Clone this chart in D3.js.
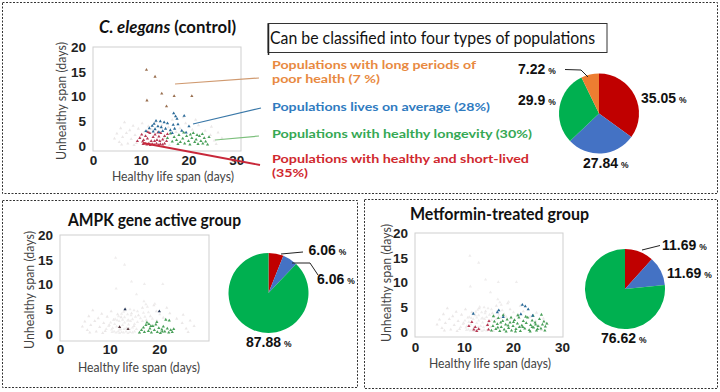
<!DOCTYPE html>
<html>
<head>
<meta charset="utf-8">
<script src="https://cdn.jsdelivr.net/npm/d3@7"></script>
<style>
  body { margin: 0; background: #fff; }
  svg { display: block; }
</style>
</head>
<body>
<svg id="fig" width="720" height="392"></svg>
<script>
// ---- data ----
// [healthy life span, unhealthy span] in days

// C. elegans control, by population type
const controlPoor = [[11.2,15.4],[13,14],[14.4,10.6],[17,10.1],[20.7,10.1],[11.3,9.2],[15.4,8.0]];
const controlAverage = [[16.9,6.6],[17.3,6.0],[19.1,6.1],[17.6,5.5],[13.2,5.1],[14.1,5.0],[12.8,4.5],
  [14.9,4.8],[15.6,4.6],[16.8,4.3],[17.8,4.4],[20.1,4.0],[12.4,4.1],[13.6,4.0],[14.3,3.8],[11.8,3.6],
  [13.0,3.4],[15.2,3.5],[16.2,3.2],[17.1,3.5],[11.1,3.0],[12.6,2.9],[13.8,2.8],[14.6,3.0],[18.6,3.1],
  [19.5,2.7],[16.6,2.6]];
const controlLongevity = [[16.2,2.5],[17.0,1.8],[17.5,1.2],[18.0,2.2],[18.3,0.8],[18.8,1.5],[19.2,0.5],
  [19.6,2.0],[20.0,1.0],[20.3,0.3],[20.7,1.6],[21.0,2.6],[21.3,0.8],[21.6,1.3],[22.0,0.4],[22.3,2.0],
  [22.6,1.0],[23.0,0.5],[23.3,1.6],[23.6,0.9],[24.0,0.3],[16.6,0.9],[17.8,0.4],[19.0,2.7],[20.4,2.3],
  [21.8,2.2],[15.6,1.6],[24.3,1.8],[22.9,2.4]];
const controlShort = [[10.5,0.4],[10.9,0.5],[11.3,0.3],[11.7,0.5],[12.0,0.2],[12.4,0.4],[12.8,0.3],
  [13.3,0.5],[13.7,0.2],[14.1,0.4],[14.6,0.3],[15.0,0.5],[9.3,1.0],[9.8,1.6],[10.2,2.3],[10.6,1.2],
  [11.0,2.0],[11.4,1.5],[11.9,2.6],[12.2,1.0],[12.6,1.8],[13.0,2.3],[13.4,1.2],[13.8,1.9],[14.2,2.6],
  [14.6,1.3],[15.0,2.0],[15.4,1.0],[10.4,0.9],[12.9,1.0],[14.0,1.0],[11.5,2.8],[13.6,2.7],[15.6,2.4]];

// faint points shown behind every scatter
const backgroundPoints = [[4.5,1.5],[5.0,2.5],[5.5,0.8],[5.8,3.6],[6.2,1.8],[6.6,4.8],[7.0,2.6],[7.3,0.5],
  [7.7,3.2],[8.0,1.4],[8.4,4.1],[8.8,2.2],[9.1,0.6],[9.5,3.5],[9.9,1.8],[10.3,4.6],[10.8,2.9],[11.6,4.0],
  [12.3,3.4],[13.1,4.8],[14.4,4.2],[15.8,3.8],[16.6,5.3],[18.2,3.6],[19.4,4.6],[20.8,3.3],[22.1,4.2],
  [23.5,3.1],[24.6,2.2],[25.4,1.1],[26.2,2.7],[27.0,1.6],[25.8,0.4],[24.8,3.9],[6.0,0.3],[8.6,0.2],
  [16.0,0.2],[21.5,5.3],[18.9,5.8],[12.0,0.9],[14.9,1.6],[17.4,2.8]];

// AMPK gene active group
const ampkShort = [[12.0,1.4],[13.7,1.0]];
const ampkAverage = [[13.1,5.0],[20.0,4.6]];
const ampkLongevity = [[16.0,0.3],[16.4,0.8],[16.8,1.3],[17.0,0.4],[17.3,1.8],[17.5,2.3],[17.8,0.6],
  [18.1,1.1],[18.4,0.3],[18.7,1.6],[19.0,0.8],[19.3,1.9],[19.6,0.4],[19.9,1.2],[20.2,0.2],[20.5,0.9],
  [20.8,1.5],[21.1,0.5],[21.3,2.9],[21.6,1.1],[21.9,0.3],[22.0,2.7],[22.3,0.8],[22.6,0.4],[22.9,1.0],
  [17.9,2.0],[19.5,2.4],[20.6,0.5],[18.3,1.6]];

// Metformin-treated group
const metShort = [[11.0,1.2],[12.0,0.5],[12.3,1.0],[12.6,0.2],[13.0,0.6],[11.6,2.0],[15.1,2.2],[15.0,0.5],[14.8,1.4]];
const metAverage = [[11.9,3.7],[16.8,4.0],[17.1,4.4],[18.0,3.0],[21.9,5.5],[22.5,5.2],[23.1,4.6],[21.6,3.6],[24.0,3.3]];
const metLongevity = [[15.6,0.3],[15.9,1.2],[16.2,2.1],[16.5,0.6],[16.8,1.6],[17.0,2.8],[17.3,0.2],[17.6,1.0],
  [17.9,2.2],[18.2,0.5],[18.5,1.5],[18.8,2.5],[19.1,0.8],[19.4,1.9],[19.7,0.3],[20.0,1.2],[20.3,2.4],[20.6,0.6],
  [20.9,1.7],[21.2,2.9],[21.5,0.2],[21.8,1.3],[22.1,2.2],[22.4,0.7],[22.7,1.8],[23.0,2.9],[23.3,0.4],[23.6,1.4],
  [23.9,2.3],[24.2,0.9],[24.5,1.9],[24.8,0.3],[25.1,1.2],[25.4,2.6],[25.7,0.7],[26.0,1.5],[26.3,2.1],[26.6,1.1],
  [26.9,1.7],[16.0,3.2],[18.0,3.4],[19.6,2.9],[21.0,3.4],[22.6,3.1],[24.1,3.3],[25.8,3.5],[17.5,1.9],[19.0,1.3],
  [20.5,0.1],[22.0,1.0],[23.5,0.1],[25.0,0.6],[26.5,0.3],[18.6,0.1],[21.3,1.0],[24.6,1.5],[16.9,0.9],[23.9,1.0],[20.1,2.0]];

// pie shares (%), clockwise from 12 o'clock
const controlShares = [35.05, 27.84, 29.9, 7.22];
const ampkShares = [6.06, 6.06, 87.88];
const metforminShares = [11.69, 11.69, 76.62];

// tick labels
const yTicks = [0, 5, 10, 15, 20];
const xTicksFull = [0, 10, 20, 30];
const xTicksAmpk = [0, 10, 20];

// legend texts
const legendLines = [
  ["Populations with long periods of", "poor health (7 %)"],
  ["Populations lives on average (28%)"],
  ["Populations with healthy longevity (30%)"],
  ["Populations with healthy and short-lived", "(35%)"]
];

// ---- colours ----
const pieRed = "#c00000", pieBlue = "#4472c4", pieGreen = "#00b050", pieOrange = "#ed7d31";
const dotRed = "#b83a55", dotBlue = "#2a6a98", dotGreen = "#4aa05a", dotOrange = "#9a7050", dotFaint = "#ebe8e8";
const txtOrange = "#e8893f", txtBlue = "#2f7bbf", txtGreen = "#35a853", txtRed = "#d0282e";

const calibri = "Lato, 'Open Sans', sans-serif";
const arial = "'Liberation Sans', Arial, sans-serif";

const svg = d3.select("#fig");

// dashed panel borders
function panelBorder(x, y, w, h) {
  svg.append("rect")
     .attr("x", x).attr("y", y).attr("width", w).attr("height", h)
     .attr("fill", "none")
     .attr("stroke", "#333")
     .attr("stroke-width", 1)
     .attr("stroke-dasharray", "2,1.5");
}
panelBorder(2.5, 2.5, 715, 191);
panelBorder(2.5, 200.5, 355, 187);
panelBorder(364.5, 199.5, 353, 189);

// scatter plot with framed area
function scatter(opt) {
  const x = d3.scaleLinear().domain(opt.xDomain).range([opt.left, opt.right]);
  const y = d3.scaleLinear().domain(opt.yDomain).range([opt.bottom, opt.top]);
  const g = svg.append("g");

  g.append("rect")
   .attr("x", opt.left).attr("y", opt.top)
   .attr("width", opt.right - opt.left).attr("height", opt.bottom - opt.top)
   .attr("fill", "none").attr("stroke", "#cfcfcf");

  const yAxis = d3.axisLeft(y).tickValues(yTicks).tickSize(0).tickPadding(7);
  const xAxis = d3.axisBottom(x).tickValues(opt.xTicks).tickSize(0).tickPadding(opt.xPad);

  g.append("g")
   .attr("transform", "translate(" + opt.left + ",0)")
   .call(yAxis)
   .call(a => a.select(".domain").remove())
   .selectAll("text")
   .attr("font-family", arial).attr("font-weight", "bold")
   .attr("font-size", 13.5).attr("fill", "#222");

  g.append("g")
   .attr("transform", "translate(0," + opt.bottom + ")")
   .call(xAxis)
   .call(a => a.select(".domain").remove())
   .selectAll("text")
   .attr("font-family", arial).attr("font-weight", "bold")
   .attr("font-size", 13.5).attr("fill", "#222");

  const tri = d3.symbol().type(d3.symbolTriangle).size(4.5);
  opt.series.forEach(function (s) {
    g.append("g").selectAll("path")
     .data(s.points)
     .join("path")
     .attr("d", tri)
     .attr("transform", d => "translate(" + x(d[0]) + "," + y(d[1]) + ")")
     .attr("fill", s.color);
  });

  // axis titles
  g.append("text")
   .attr("x", opt.xLabel[0]).attr("y", opt.xLabel[1])
   .attr("text-anchor", "middle")
   .attr("font-family", calibri).attr("font-size", 13)
   .attr("fill", "#444")
   .attr("textLength", 122).attr("lengthAdjust", "spacingAndGlyphs")
   .text("Healthy life span (days)");

  g.append("text")
   .attr("transform", "translate(" + opt.yLabel[0] + "," + opt.yLabel[1] + ") rotate(-90)")
   .attr("text-anchor", "middle")
   .attr("font-family", calibri).attr("font-size", 13)
   .attr("fill", "#444")
   .attr("textLength", 118).attr("lengthAdjust", "spacingAndGlyphs")
   .text("Unhealthy span (days)");
}

// pie with value labels
function pie(opt) {
  const arcs = d3.pie().sort(null)(opt.shares);
  const arc = d3.arc().innerRadius(0).outerRadius(opt.r);
  const g = svg.append("g").attr("transform", "translate(" + opt.cx + "," + opt.cy + ")");
  g.selectAll("path")
   .data(arcs)
   .join("path")
   .attr("d", arc)
   .attr("fill", (d, i) => opt.colors[i]);

  const lbl = g.selectAll("text")
   .data(arcs)
   .join("text")
   .attr("x", (d, i) => opt.labelPos[i][0])
   .attr("y", (d, i) => opt.labelPos[i][1])
   .attr("font-family", arial).attr("font-weight", "bold")
   .attr("font-size", 14).attr("fill", "#111");
  lbl.append("tspan").text(d => d.data);
  lbl.append("tspan").attr("dx", 3).attr("font-size", 8.5).text("%");

  (opt.leaders || []).forEach(function (pts) {
    svg.append("path")
       .attr("d", d3.line()(pts))
       .attr("fill", "none").attr("stroke", "#222").attr("stroke-width", 1);
  });
}

// ---------- top panel: control ----------
const title1 = svg.append("text")
  .attr("x", 99).attr("y", 33)
  .attr("font-family", calibri).attr("font-weight", "bold")
  .attr("font-size", 16.5).attr("fill", "#111")
  .attr("textLength", 137).attr("lengthAdjust", "spacingAndGlyphs");
title1.append("tspan").attr("font-style", "italic").text("C. elegans");
title1.append("tspan").text("  (control)");

scatter({
  left: 93, right: 241, top: 47, bottom: 151,
  xDomain: [0, 31], yDomain: [-1, 20], xTicks: xTicksFull, xPad: 4,
  xLabel: [173, 181], yLabel: [66, 101],
  series: [
    { points: backgroundPoints, color: dotFaint },
    { points: controlShort, color: dotRed },
    { points: controlLongevity, color: dotGreen },
    { points: controlAverage, color: dotBlue },
    { points: controlPoor, color: dotOrange }
  ]
});

// connector lines from the cloud to the legend
[
  { c: "#d09a70", w: 1.2, p: [[175, 84], [259, 78]] },
  { c: "#3a78a8", w: 1.2, p: [[193, 124], [261, 108]] },
  { c: "#7cbf7c", w: 1.2, p: [[215, 140], [259, 136]] },
  { c: "#c8283a", w: 1.8, p: [[143, 143], [260, 165]] }
].forEach(function (l) {
  svg.append("path").attr("d", d3.line()(l.p))
     .attr("fill", "none").attr("stroke", l.c).attr("stroke-width", l.w);
});

// text box
svg.append("rect")
   .attr("x", 268).attr("y", 23.5).attr("width", 339).attr("height", 29)
   .attr("fill", "none").attr("stroke", "#333").attr("stroke-width", 1);
svg.append("line")
   .attr("x1", 268.5).attr("x2", 268.5).attr("y1", 24).attr("y2", 55)
   .attr("stroke", "#222").attr("stroke-width", 1.5);
svg.append("text")
   .attr("x", 270).attr("y", 44)
   .attr("font-family", calibri).attr("font-size", 16.5).attr("fill", "#111")
   .attr("textLength", 325).attr("lengthAdjust", "spacingAndGlyphs")
   .text("Can be classified into four types of populations");

// coloured legend: one text per entry, wrapped lines as tspans
const legendColors = [txtOrange, txtBlue, txtGreen, txtRed];
const legendY = [[68.5, 83], [111], [138], [162.5, 177]];
const legendW = [[204, 108], [218], [260], [257, 36]];
legendLines.forEach(function (lines, i) {
  const t = svg.append("text")
     .attr("font-family", calibri).attr("font-weight", "bold")
     .attr("font-size", 12).attr("fill", legendColors[i]);
  lines.forEach(function (s, j) {
    t.append("tspan")
     .attr("x", 272).attr("y", legendY[i][j])
     .attr("textLength", legendW[i][j]).attr("lengthAdjust", "spacingAndGlyphs")
     .text(s);
  });
});

pie({
  cx: 599, cy: 113.5, r: 40,
  shares: controlShares,
  colors: [pieRed, pieBlue, pieGreen, pieOrange],
  labelPos: [[42, -11], [-16, 54.5], [-81, -8.5], [-81, -39.5]],
  leaders: [[[565, 69.5], [581, 70], [588, 77]]]
});

// ---------- bottom left: AMPK ----------
svg.append("text")
   .attr("x", 68).attr("y", 226)
   .attr("font-family", calibri).attr("font-weight", "bold")
   .attr("font-size", 16.5).attr("fill", "#111")
   .attr("textLength", 173).attr("lengthAdjust", "spacingAndGlyphs")
   .text("AMPK gene active group");

scatter({
  left: 60, right: 209, top: 235, bottom: 341,
  xDomain: [0, 30], yDomain: [-1.4, 20], xTicks: xTicksAmpk, xPad: 3,
  xLabel: [139, 372], yLabel: [34, 290],
  series: [
    { points: backgroundPoints, color: dotFaint },
    { points: controlPoor.concat(controlAverage, controlShort), color: "#efeded" },
    { points: ampkLongevity, color: dotGreen },
    { points: ampkShort, color: "#5a3a40" },
    { points: ampkAverage, color: "#2a3a5a" }
  ]
});

pie({
  cx: 268.5, cy: 293, r: 40,
  shares: ampkShares,
  colors: [pieRed, pieBlue, pieGreen],
  labelPos: [[40, -38], [48.5, -9], [-22.5, 54]],
  leaders: [[[281, 254], [303, 252]], [[292, 263], [310, 263], [318, 275]]]
});

// ---------- bottom right: Metformin ----------
svg.append("text")
   .attr("x", 410).attr("y", 220)
   .attr("font-family", calibri).attr("font-weight", "bold")
   .attr("font-size", 16.5).attr("fill", "#111")
   .attr("textLength", 179).attr("lengthAdjust", "spacingAndGlyphs")
   .text("Metformin-treated  group");

scatter({
  left: 415, right: 563, top: 233, bottom: 337,
  xDomain: [0, 30.2], yDomain: [-1, 20], xTicks: xTicksFull, xPad: 5,
  xLabel: [490, 368], yLabel: [391, 283],
  series: [
    { points: backgroundPoints, color: dotFaint },
    { points: controlPoor.concat(controlAverage, controlShort), color: "#efeded" },
    { points: metLongevity, color: dotGreen },
    { points: metShort, color: dotRed },
    { points: metAverage, color: dotBlue }
  ]
});

pie({
  cx: 625, cy: 289, r: 40,
  shares: metforminShares,
  colors: [pieRed, pieBlue, pieGreen],
  labelPos: [[37, -39], [42, -11], [-24, 54]],
  leaders: [[[642, 250], [660, 245.5]]]
});
</script>
</body>
</html>
